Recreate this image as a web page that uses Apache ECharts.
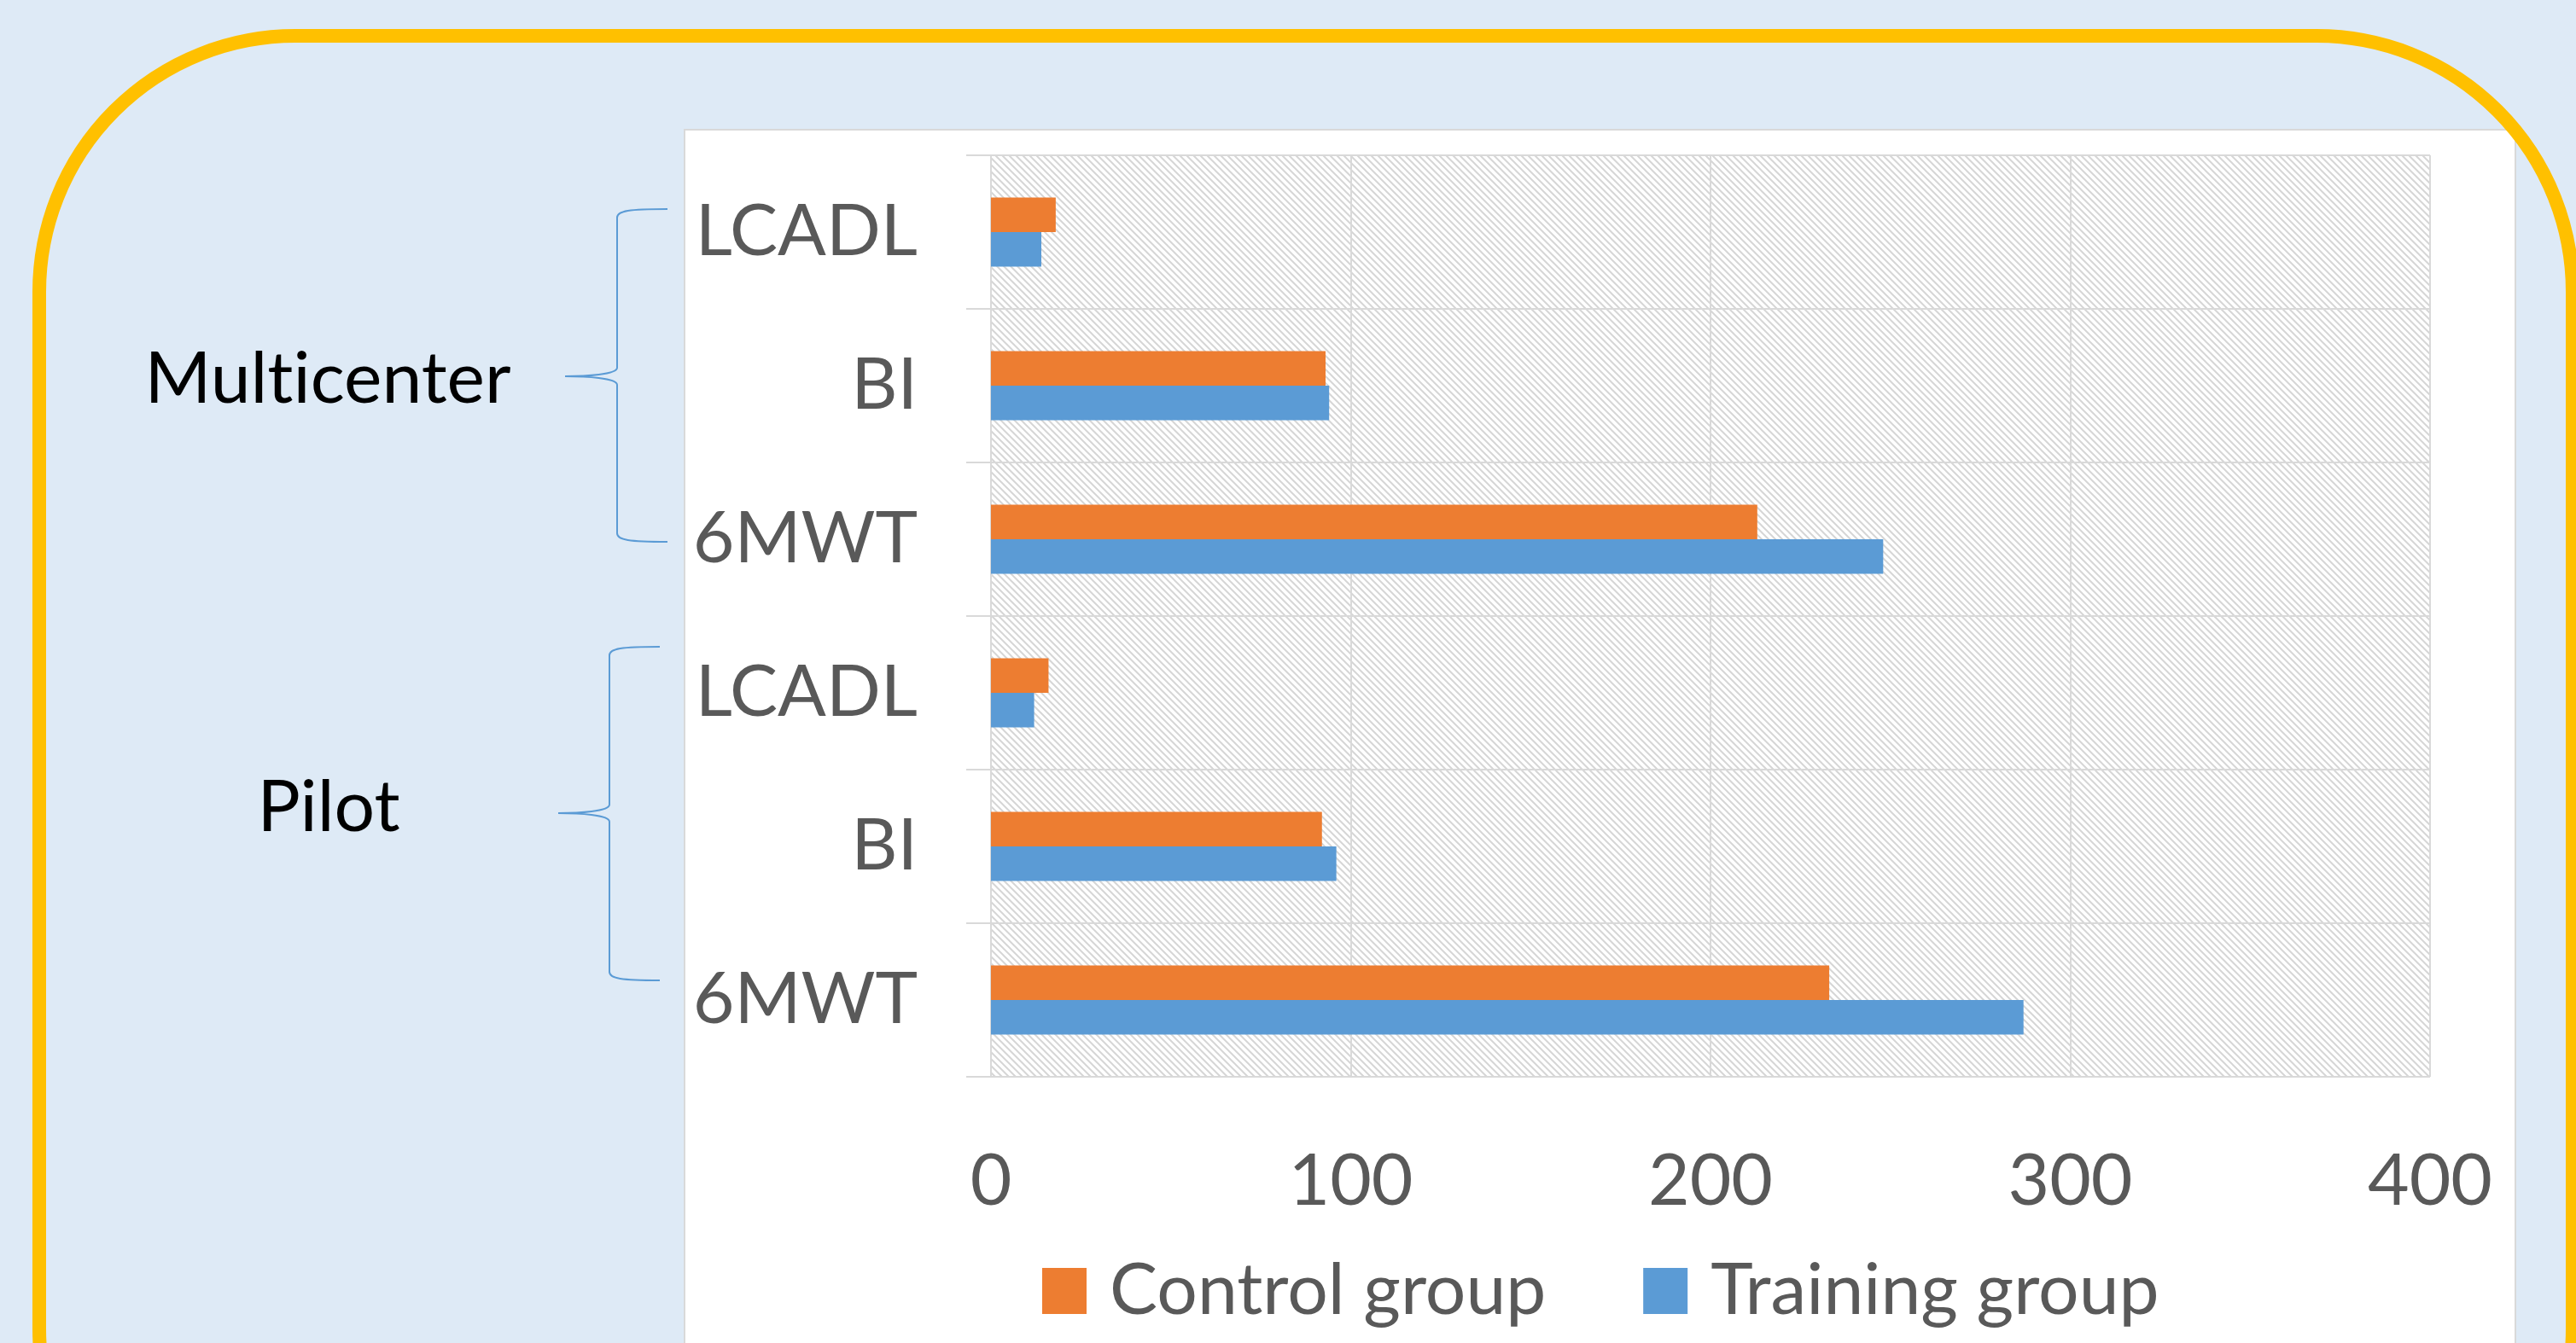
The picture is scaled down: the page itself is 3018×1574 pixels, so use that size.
<!DOCTYPE html>
<html><head><meta charset="utf-8">
<script src="https://cdn.jsdelivr.net/npm/echarts@6/dist/echarts.min.js"></script>
<style>html,body{margin:0;padding:0;background:#DEEAF6;}#c{width:3018px;height:1574px;}</style>
</head><body><div id="c"></div>
<script>
// ---- data ----
const categories = ['LCADL', 'BI', '6MWT', 'LCADL', 'BI', '6MWT'];
const groupLabels = ['Multicenter', 'Pilot'];
const seriesNames = ['Control group', 'Training group'];
const controlGroup = [18, 93, 213, 16, 92, 233];
const trainingGroup = [14, 94, 248, 12, 96, 287];
const xTicks = [0, 100, 200, 300, 400];

// avoid optional ligatures (e.g. "ti") in canvas text
(function () {
  const p = CanvasRenderingContext2D.prototype, f = p.fillText;
  p.fillText = function () {
    if ('textRendering' in this) this.textRendering = 'optimizeSpeed';
    if ('letterSpacing' in this && (this.letterSpacing === '0px' || !this.letterSpacing)) this.letterSpacing = '0.01px';
    return f.apply(this, arguments);
  };
})();

// ---- styling ----
const FONT = 'Lato, "Open Sans", sans-serif';
const LABEL = '#595959';
const GRIDC = '#D9D9D9';

function hatch() {
  const c = document.createElement('canvas');
  c.width = 8; c.height = 8;
  const g = c.getContext('2d');
  g.fillStyle = '#ffffff'; g.fillRect(0, 0, 8, 8);
  g.strokeStyle = '#D6D6D6'; g.lineWidth = 2;
  g.beginPath();
  g.moveTo(-2, -2); g.lineTo(10, 10);
  g.moveTo(-2, 6); g.lineTo(2, 10);
  g.moveTo(6, -2); g.lineTo(10, 2);
  g.stroke();
  return c;
}

function brace(xEnd, xV, xTip, y0, yMid, y1) {
  const c = 10, st = {stroke: '#5B9BD5', lineWidth: 2, fill: null};
  const mk = (type, shape) => ({type, shape, style: st, z: 50, silent: true});
  return [
    mk('bezierCurve', {x1: xEnd, y1: y0, cpx1: xV + 14, cpy1: y0, cpx2: xV, cpy2: y0 + 2, x2: xV, y2: y0 + c}),
    mk('line', {x1: xV, y1: y0 + c, x2: xV, y2: yMid - c}),
    mk('bezierCurve', {x1: xV, y1: yMid - c, cpx1: xV, cpy1: yMid - 2, cpx2: xTip + 24, cpy2: yMid, x2: xTip, y2: yMid}),
    mk('bezierCurve', {x1: xTip, y1: yMid, cpx1: xTip + 24, cpy1: yMid, cpx2: xV, cpy2: yMid + 2, x2: xV, y2: yMid + c}),
    mk('line', {x1: xV, y1: yMid + c, x2: xV, y2: y1 - c}),
    mk('bezierCurve', {x1: xV, y1: y1 - c, cpx1: xV, cpy1: y1 - 2, cpx2: xV + 14, cpy2: y1, x2: xEnd, y2: y1})
  ];
}

function groupText(txt, x, y) {
  return {type: 'text', x, y, z: 50, silent: true,
    style: {text: txt, fontSize: 84, fontFamily: FONT, fill: '#000000',
      align: 'center', verticalAlign: 'middle', textAlign: 'center', textVerticalAlign: 'middle'}};
}

const chart = echarts.init(document.getElementById('c'), null, {renderer: 'canvas', width: 3018, height: 1574});

const option = {
  animation: false,
  backgroundColor: '#DEEAF6',
  grid: {left: 1161, top: 182, width: 1686, height: 1080, show: true,
    backgroundColor: {image: hatch(), repeat: 'repeat'}, borderWidth: 0},
  xAxis: {type: 'value', min: xTicks[0], max: xTicks[xTicks.length - 1], interval: xTicks[1] - xTicks[0],
    axisLine: {show: false}, axisTick: {show: false},
    splitLine: {show: true, lineStyle: {color: GRIDC, width: 2}},
    axisLabel: {color: LABEL, fontSize: 84, fontFamily: FONT, margin: 81}},
  yAxis: {type: 'category', data: categories, inverse: true,
    axisLine: {show: true, lineStyle: {color: GRIDC, width: 2}},
    axisTick: {show: true, length: 29, lineStyle: {color: GRIDC, width: 2}},
    splitLine: {show: true, lineStyle: {color: GRIDC, width: 2}},
    axisLabel: {color: LABEL, fontSize: 84, fontFamily: FONT, margin: 86}},
  legend: {data: seriesNames, left: 1216, top: 1466, itemWidth: 52, itemHeight: 54, itemGap: 114,
    icon: 'rect', selectedMode: false,
    textStyle: {color: LABEL, fontSize: 84, fontFamily: FONT, lineHeight: 54, padding: [0, 0, 0, 22]}},
  series: [
    {name: seriesNames[0], type: 'bar', data: controlGroup, itemStyle: {color: '#ED7D31'},
      barGap: '0%', barCategoryGap: '55%', silent: true},
    {name: seriesNames[1], type: 'bar', data: trainingGroup, itemStyle: {color: '#5B9BD5'}, silent: true}
  ],
  graphic: {elements: [
    {type: 'rect', z: -10, silent: true, shape: {x: 802, y: 152, width: 2145, height: 1600},
      style: {fill: '#ffffff', stroke: GRIDC, lineWidth: 2}},
    {type: 'rect', z: 60, silent: true, shape: {x: 46, y: 42, width: 2968, height: 1815, r: 300},
      style: {fill: null, stroke: '#FFC000', lineWidth: 16}},
    ...brace(782, 723, 662, 245, 441, 635),
    ...brace(773, 714, 654, 758, 953, 1149),
    groupText(groupLabels[0], 384, 445),
    groupText(groupLabels[1], 385, 947)
  ]}
};
chart.setOption(option);
</script>
</body></html>
